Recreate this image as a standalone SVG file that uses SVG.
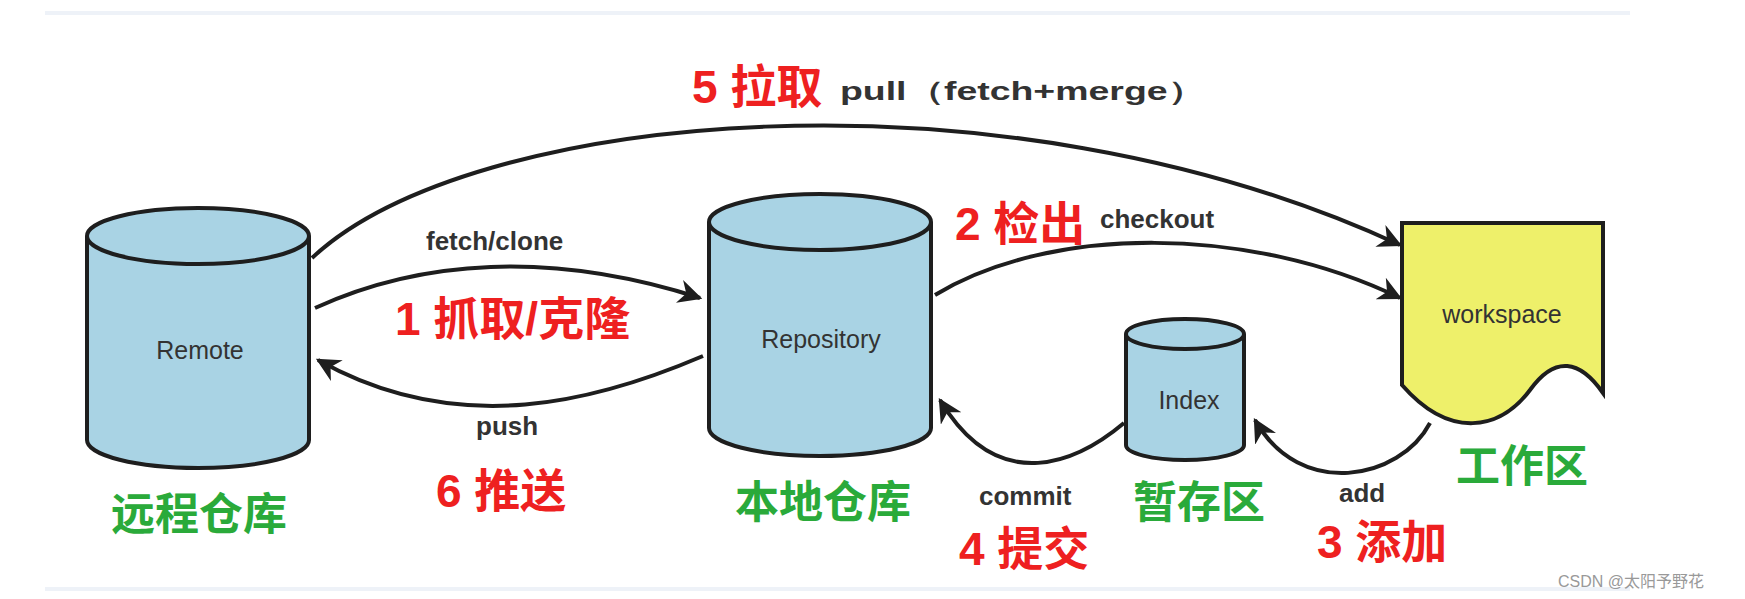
<svg xmlns="http://www.w3.org/2000/svg" width="1745" height="599" viewBox="0 0 1745 599">
<defs>
<style>
.cyl{fill:#a9d3e4;stroke:#1e1e1e;stroke-width:4}
.edge{fill:none;stroke:#1e1e1e;stroke-width:4}
.lbl{font-family:"Liberation Sans",Arial,sans-serif;font-weight:bold;fill:#333;font-size:26px}
.red{font-family:"Liberation Sans","Noto Sans CJK SC",sans-serif;font-weight:bold;fill:#ee2020;font-size:46px}
.grn{font-family:"Noto Sans CJK SC",sans-serif;font-weight:bold;fill:#2aaa3a;font-size:44px}
.in{font-family:"Liberation Sans",Arial,sans-serif;fill:#333;font-size:25px;text-anchor:middle}
</style>
<marker id="ah" viewBox="0 0 10 10" refX="9" refY="5" markerWidth="6" markerHeight="6" orient="auto" markerUnits="strokeWidth"><path d="M0,0 L10,5 L0,10 L3,5 Z" fill="#1e1e1e"/></marker>
</defs>
<rect width="1745" height="599" fill="#fff"/>
<line x1="45" y1="13" x2="1630" y2="13" stroke="#eef2f8" stroke-width="4"/>
<line x1="45" y1="589" x2="1630" y2="589" stroke="#eef2f8" stroke-width="4"/>
<g id="connectors">
<path class="edge" d="M312,258 C470,110 1000,60 1400,245" marker-end="url(#ah)"/>
<path class="edge" d="M315,308 C420,260 550,250 700,298" marker-end="url(#ah)"/>
<path class="edge" d="M703,356 C600,400 460,440 318,360" marker-end="url(#ah)"/>
<path class="edge" d="M935,295 C1050,225 1250,225 1400,298" marker-end="url(#ah)"/>
<path class="edge" d="M1124,423 C1080,460 1000,500 940,400" marker-end="url(#ah)"/>
<path class="edge" d="M1430,423 C1400,480 1300,500 1255,420" marker-end="url(#ah)"/>
</g>
<g id="remote">
<path class="cyl" d="M87,236 V440 A111,28 0 0 0 309,440 V236"/>
<ellipse class="cyl" cx="198" cy="236" rx="111" ry="28"/>
<text class="in" x="200" y="359">Remote</text>
</g>
<g id="repository">
<path class="cyl" d="M709,222 V428 A111,28 0 0 0 931,428 V222"/>
<ellipse class="cyl" cx="820" cy="222" rx="111" ry="28"/>
<text class="in" x="821" y="348">Repository</text>
</g>
<g id="index">
<path class="cyl" d="M1126,334 V445 A59,15 0 0 0 1244,445 V334"/>
<ellipse class="cyl" cx="1185" cy="334" rx="59" ry="15"/>
<text class="in" x="1189" y="409">Index</text>
</g>
<g id="workspace">
<path d="M1402,223 H1603 V393 C1580,360 1555,355 1530,390 C1500,430 1450,440 1402,385 Z" fill="#eef06a" stroke="#1e1e1e" stroke-width="4"/>
<text class="in" x="1502" y="323">workspace</text>
</g>
<g id="labels">
<text class="red" x="692" y="103">5 拉取</text>
<text class="lbl" x="840" y="100" font-size="34" textLength="365" lengthAdjust="spacingAndGlyphs">pull（fetch+merge）</text>
<text class="lbl" x="426" y="250">fetch/clone</text>
<text class="red" x="395" y="335">1 抓取/克隆</text>
<text class="lbl" x="476" y="435">push</text>
<text class="red" x="436" y="507">6 推送</text>
<text class="red" x="955" y="240">2 检出</text>
<text class="lbl" x="1100" y="228">checkout</text>
<text class="lbl" x="979" y="505">commit</text>
<text class="red" x="959" y="565">4 提交</text>
<text class="lbl" x="1339" y="502">add</text>
<text class="red" x="1317" y="558">3 添加</text>
<text class="grn" x="111" y="530">远程仓库</text>
<text class="grn" x="735" y="518">本地仓库</text>
<text class="grn" x="1133" y="518">暂存区</text>
<text class="grn" x="1456" y="482">工作区</text>
<text x="1558" y="587" font-family="'Liberation Sans','Noto Sans CJK SC',sans-serif" font-size="16" fill="#999">CSDN @太阳予野花</text>
</g>
</svg>
